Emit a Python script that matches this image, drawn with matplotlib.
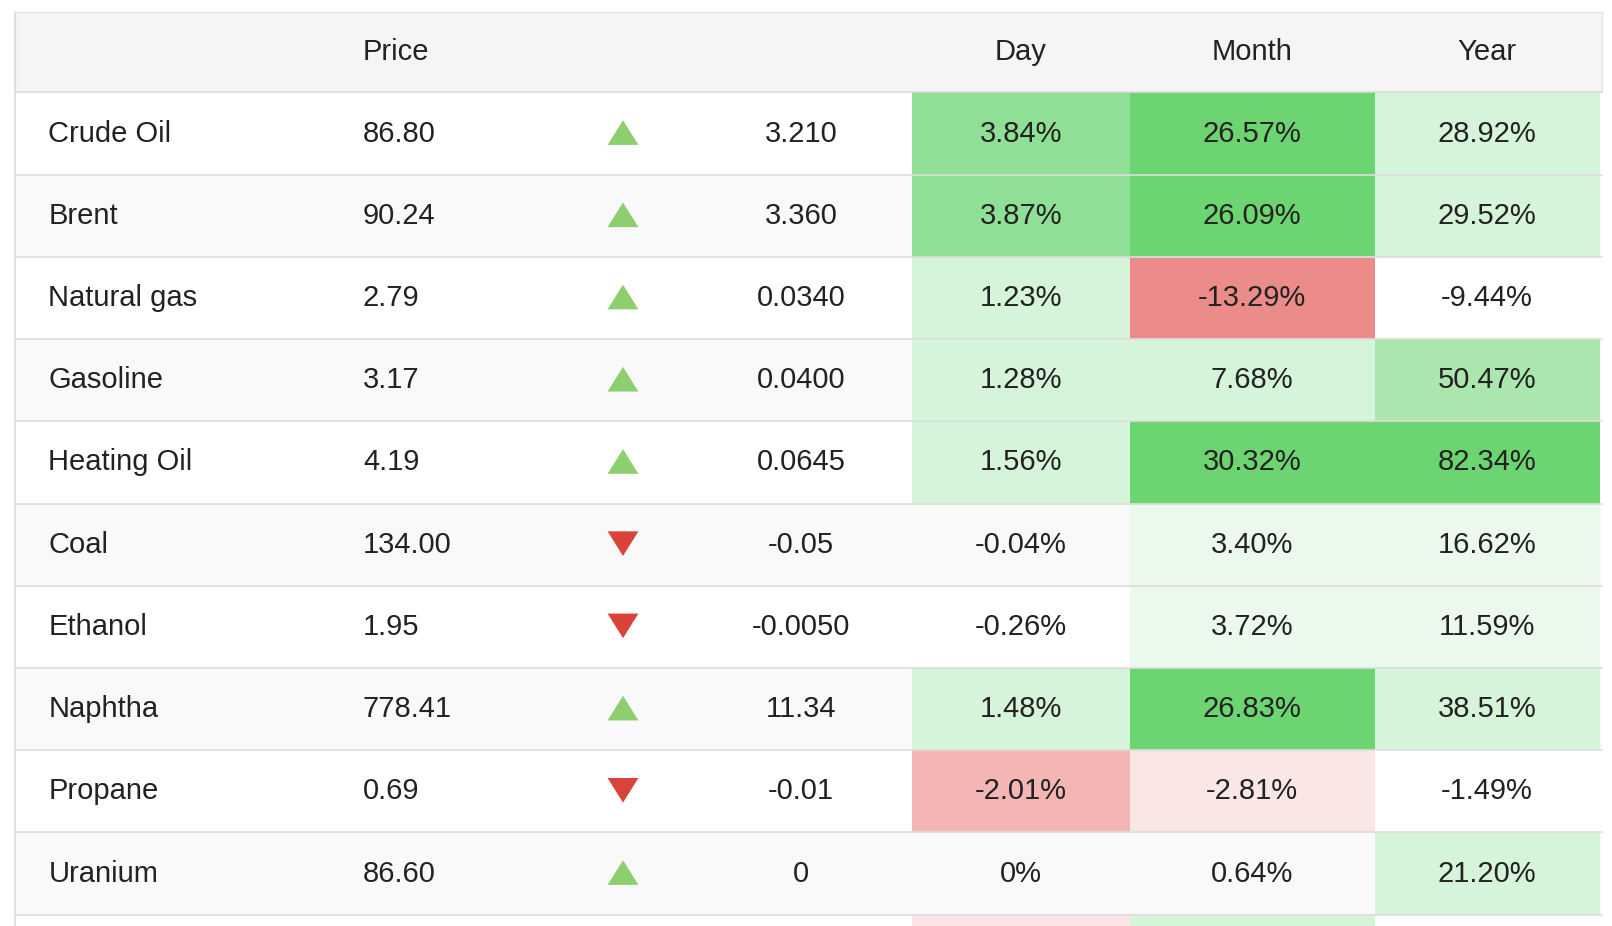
import matplotlib.pyplot as plt
from matplotlib.patches import Rectangle, Polygon

names = ["Crude Oil", "Brent", "Natural gas", "Gasoline", "Heating Oil", "Coal",
         "Ethanol", "Naphtha", "Propane", "Uranium"]
prices = ["86.80", "90.24", "2.79", "3.17", "4.19", "134.00", "1.95", "778.41", "0.69", "86.60"]
up = [True, True, True, True, True, False, False, True, False, True]
changes = ["3.210", "3.360", "0.0340", "0.0400", "0.0645", "-0.05", "-0.0050", "11.34", "-0.01", "0"]
day = ["3.84%", "3.87%", "1.23%", "1.28%", "1.56%", "-0.04%", "-0.26%", "1.48%", "-2.01%", "0%"]
month = ["26.57%", "26.09%", "-13.29%", "7.68%", "30.32%", "3.40%", "3.72%", "26.83%", "-2.81%", "0.64%"]
year = ["28.92%", "29.52%", "-9.44%", "50.47%", "82.34%", "16.62%", "11.59%", "38.51%", "-1.49%", "21.20%"]

# shade levels: g3 strong green .. g0 faint green, r2 strong red .. r0 faint red, None = row background
day_shade = ["g2", "g2", "g1", "g1", "g1", None, None, "g1", "r1", None]
month_shade = ["g3", "g3", "r2", "g1", "g3", "g0", "g0", "g3", "r0", None]
year_shade = ["g1", "g1", None, "gm", "g3", "g0", "g0", "g1", None, "g1"]
next_row_shade = ["r0", "g1", None]  # partially visible row at bottom

palette = {"g3": "#6cd470", "g2": "#8fe096", "gm": "#abe6af", "g1": "#d6f4d9", "g0": "#ebf9ed",
           "r2": "#eb8c8a", "r1": "#f3b6b5", "r0": "#fbe6e6"}

W, H = 1612, 926
fig = plt.figure(figsize=(W / 100, H / 100), dpi=100)
ax = fig.add_axes([0, 0, 1, 1])
# layout measured on a 1568x901 view of the reference
ax.set_xlim(0, 1568)
ax.set_ylim(901, 0)
ax.axis("off")

left, right = 15, 1558
head_top, head_h, row_h = 12, 78, 80
cols = [(887, 1099), (1099, 1337), (1337, 1556)]
font = dict(family=["Liberation Sans", "DejaVu Sans"], fontsize=21, color="#222222", va="center")

ax.add_patch(Rectangle((left, head_top), right - left, head_h, fc="#f5f5f5", ec="#e2e2e2", lw=1))
hy = head_top + head_h / 2
ax.text(353, hy, "Price", ha="left", **font)
for (a, b), lab in zip(cols, ["Day", "Month", "Year"]):
    ax.text((a + b) / 2, hy, lab, ha="center", **font)

top0 = head_top + head_h
for i in range(len(names) + 1):
    y0 = top0 + i * row_h
    bg = "white" if i % 2 == 0 else "#f9f9f9"
    ax.add_patch(Rectangle((left, y0), right - left, row_h, fc=bg, ec="none"))
    shades = next_row_shade if i == len(names) else [day_shade[i], month_shade[i], year_shade[i]]
    for (a, b), s in zip(cols, shades):
        if s:
            ax.add_patch(Rectangle((a, y0), b - a, row_h, fc=palette[s], ec="none"))
    ax.plot([left, right], [y0, y0], color="#dddddd", lw=1.2)
    if i == len(names):
        continue
    yc = y0 + row_h / 2
    ax.text(47, yc, names[i], ha="left", **font)
    ax.text(353, yc, prices[i], ha="left", **font)
    if up[i]:
        tri = Polygon([(591, yc + 11), (621, yc + 11), (606, yc - 13)], fc="#8dcf6e", ec="none")
    else:
        tri = Polygon([(591, yc - 13), (621, yc - 13), (606, yc + 11)], fc="#d9433a", ec="none")
    ax.add_patch(tri)
    ax.text(779, yc, changes[i], ha="center", **font)
    for (a, b), v in zip(cols, [day[i], month[i], year[i]]):
        ax.text((a + b) / 2, yc, v, ha="center", **font)

ax.plot([left, left], [head_top, 901], color="#dddddd", lw=1.2)

fig.savefig("out.png", dpi=100)
